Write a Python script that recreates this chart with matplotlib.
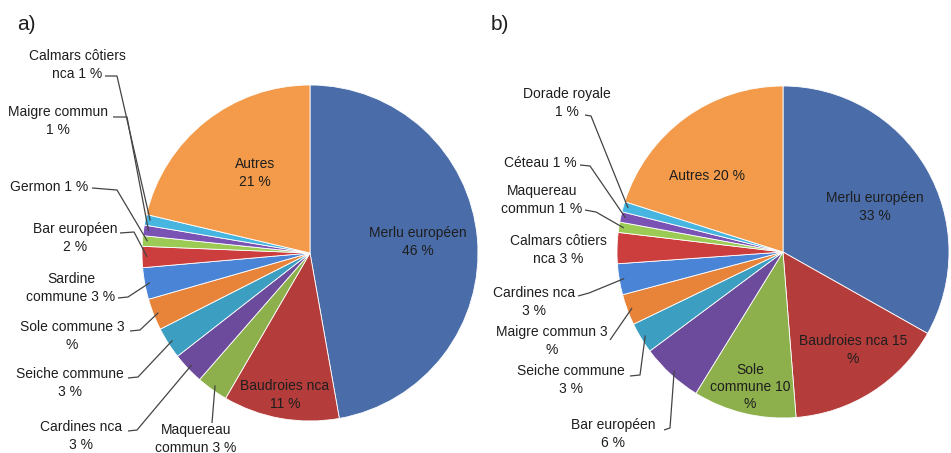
import matplotlib
matplotlib.use("Agg")
import matplotlib.pyplot as plt
import numpy as np

plt.rcParams['font.family'] = ['Liberation Sans', 'DejaVu Sans']

W, H = 951, 453

# panel a)
labels_a = ["Merlu européen\n46 %", "Baudroies nca\n11 %", "Maquereau\ncommun 3 %",
            "Cardines nca\n3 %", "Seiche commune\n3 %", "Sole commune 3\n%",
            "Sardine\ncommune 3 %", "Bar européen\n2 %", "Germon 1 %",
            "Maigre commun\n1 %", "Calmars côtiers\nnca 1 %", "Autres\n21 %"]
values_a = [46.5, 11, 3, 3, 3, 3, 3, 2, 1, 1, 1, 21]

# panel b)
labels_b = ["Merlu européen\n33 %", "Baudroies nca 15\n%", "Sole\ncommune 10\n%",
            "Bar européen\n6 %", "Seiche commune\n3 %", "Maigre commun 3\n%",
            "Cardines nca\n3 %", "Calmars côtiers\nnca 3 %", "Maquereau\ncommun 1 %",
            "Céteau 1 %", "Dorade royale\n1 %", "Autres 20 %"]
values_b = [33, 15.5, 10, 6, 3, 3, 3, 3, 1, 1, 1, 20]

colors = ["#4A6DAA", "#B43D3B", "#8DB04C", "#6C4A9C", "#3C9FC2", "#E8843A",
          "#4A84D6", "#CC3E3E", "#9CCB55", "#7A52B4", "#46B6E0", "#F39B4B"]


def P(x, y):
    return (x, H - y)


# (kind, text centre, leader points) in pixels
layout_a = [
    ("in", (418, 242)),
    ("in", (285, 395)),
    ("out", (196, 439), [(212, 423)]),
    ("out", (81, 436), [(128, 431), (137, 430)]),
    ("out", (70, 383), [(128, 378), (138, 377)]),
    ("out", (72, 336), [(130, 331), (140, 330)]),
    ("out", (71, 288), [(118, 298), (128, 297)]),
    ("out", (75, 238), [(120, 233), (134, 232)]),
    ("out", (49, 187), [(92, 188), (117, 190)]),
    ("out", (58, 121), [(113, 117), (127, 117)]),
    ("out", (77, 65), [(105, 76), (117, 76)]),
    ("in", (255, 173)),
]
layout_b = [
    ("in", (875, 207)),
    ("in", (853, 350)),
    ("in", (750, 387)),
    ("out", (613, 434), [(664, 430), (670, 428)]),
    ("out", (571, 380), [(630, 376), (640, 375)]),
    ("out", (552, 341), [(610, 340)]),
    ("out", (534, 302), [(578, 296), (589, 293)]),
    ("none", (558, 250)),
    ("out", (542, 200), [(585, 210), (596, 212)]),
    ("out", (540, 163), [(580, 165), (590, 166)]),
    ("out", (567, 103), [(585, 115), (591, 116)]),
    ("in", (707, 176)),
]


def draw(ax, values, labels, layout, centre, radius):
    wedges, _ = ax.pie(values, colors=colors, startangle=90, counterclock=False,
                       center=P(*centre), radius=radius,
                       wedgeprops=dict(edgecolor="white", linewidth=0.6))
    cx, cy = P(*centre)
    for w, lab, lay in zip(wedges, labels, layout):
        kind, pos = lay[0], lay[1]
        ax.text(*P(*pos), lab, ha="center", va="center", fontsize=10,
                color="#1e1e1e", linespacing=1.3)
        if kind != "out":
            continue
        ang = np.deg2rad((w.theta1 + w.theta2) / 2)
        ex = cx + radius * 0.97 * np.cos(ang)
        ey = cy + radius * 0.97 * np.sin(ang)
        pts = [P(*p) for p in lay[2]] + [(ex, ey)]
        xs, ys = zip(*pts)
        ax.plot(xs, ys, color="#444444", lw=0.9, solid_capstyle="butt")


fig = plt.figure(figsize=(W / 100, H / 100), dpi=100)
ax = fig.add_axes([0, 0, 1, 1])
draw(ax, values_a, labels_a, layout_a, (310, 253), 168)
draw(ax, values_b, labels_b, layout_b, (783, 252), 166)
ax.text(*P(26, 24), "a)", fontsize=15, ha="center", va="center", color="#1e1e1e")
ax.text(*P(500, 24), "b)", fontsize=15, ha="center", va="center", color="#1e1e1e")
ax.set_xlim(0, W)
ax.set_ylim(0, H)
ax.set_aspect("auto")
ax.axis("off")
fig.savefig("out.png", dpi=100, facecolor="white")
